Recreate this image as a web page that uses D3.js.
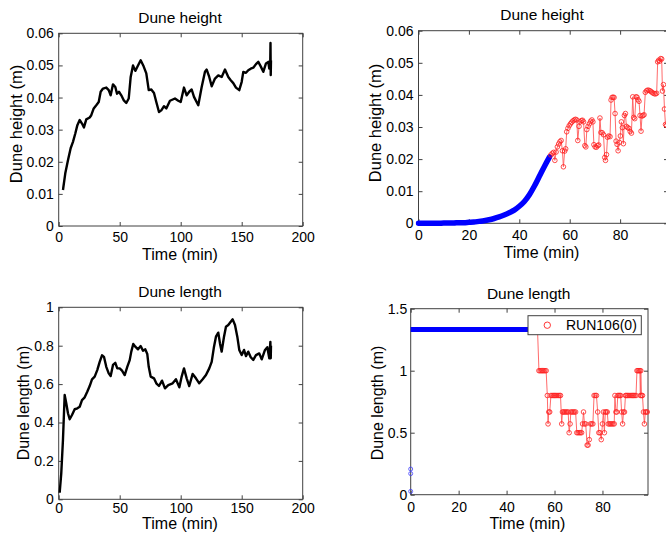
<!DOCTYPE html>
<html><head><meta charset="utf-8">
<script src="https://cdn.jsdelivr.net/npm/d3@7/dist/d3.min.js"></script>
<style>body{margin:0;background:#fff}svg{display:block;font-family:"Liberation Sans",Arial,Helvetica,sans-serif}</style>
</head><body><svg id="c" width="666" height="537"></svg>
<script>
// ---------- DATA ----------
// Top-left: Dune height vs time
const tlTime = [3.5,5.4,7.6,9.8,11.7,13.6,15.3,17.2,19.1,20.7,22.6,25.4,26.7,28.7,30.8,32.8,34.4,36.3,39,41,42.6,44.5,46.4,47.8,49.4,51.3,53.2,55.4,57.4,59,60.9,62.8,64.4,67.2,69.3,71.8,73.8,75.9,78.1,80,82.2,84.1,86.3,88.2,91.2,95.3,98,100,102.7,104.9,107,109,110.9,114.4,117.2,119.9,121.3,123.4,125.4,128.1,130.8,133.6,136.3,139,141,143.1,145.3,148,150,151.3,153.5,155.4,157.4,159.5,161.7,163.6,165.6,167.7,169.9,171.8,172.6,173.4,173.6,173.8,174];
const tlHeight = [0.0112,0.0164,0.0205,0.0242,0.0262,0.0288,0.0314,0.033,0.0319,0.0307,0.0332,0.0338,0.0345,0.0366,0.0376,0.0386,0.0418,0.0428,0.0431,0.0423,0.0407,0.0441,0.0433,0.0412,0.0418,0.0407,0.0392,0.0383,0.0397,0.0464,0.05,0.0483,0.0495,0.0516,0.05,0.0475,0.0423,0.0425,0.0414,0.0386,0.0355,0.036,0.0373,0.0366,0.039,0.0397,0.039,0.0386,0.0431,0.0407,0.0418,0.0425,0.0402,0.0376,0.0433,0.048,0.0487,0.0464,0.0435,0.0459,0.0469,0.0464,0.0487,0.0464,0.0454,0.0445,0.0431,0.0423,0.0449,0.048,0.0477,0.0485,0.049,0.0493,0.0504,0.0511,0.0497,0.048,0.0506,0.0511,0.049,0.051,0.057,0.047,0.0515];

// Bottom-left: Dune length vs time
const blTime = [0.8,2.1,3.5,4.9,6.2,7.6,9,10.9,13.1,15.3,17.2,19.1,21.3,23.4,25.4,27.3,29.5,31.6,33.6,35.5,37.1,39,41,42.6,44.5,46.4,48,50,51.9,54.1,56.2,58.2,59.5,61.1,62.8,65,67.2,69.1,71,72.6,73.8,75.4,78.1,80,82.2,84.7,87.1,89.8,93.4,96.1,98.9,100.8,102.7,104.9,107,109.8,112.5,115.2,118,120.7,123.4,125.4,127.3,128.9,130.8,132.2,133.6,135.5,137.1,139,141,142.6,144.5,146.4,148,150,151.9,153.5,155.4,157.4,159.5,161.7,164.4,166.4,169.1,171,172.6,173.5,173.8,174];
const blLength = [0.034,0.135,0.31,0.543,0.5,0.448,0.417,0.439,0.469,0.474,0.482,0.517,0.531,0.56,0.59,0.625,0.639,0.673,0.716,0.75,0.742,0.69,0.656,0.642,0.7,0.711,0.682,0.682,0.67,0.647,0.69,0.725,0.769,0.809,0.795,0.781,0.798,0.774,0.781,0.757,0.69,0.639,0.63,0.604,0.59,0.618,0.578,0.595,0.604,0.625,0.583,0.639,0.682,0.63,0.59,0.653,0.63,0.604,0.625,0.647,0.682,0.716,0.795,0.847,0.868,0.812,0.769,0.847,0.899,0.908,0.925,0.937,0.908,0.847,0.778,0.751,0.778,0.746,0.769,0.74,0.726,0.751,0.76,0.729,0.778,0.792,0.734,0.82,0.735,0.8];

// Top-right: model (blue) and RUN106(0) measurements (red)
const trBlueTime = [0,2,4,6,8,10,12,14,16,18,20,22,24,26,28,30,32,34,36,38,40,42,44,46,48,50,52];
const trBlueHeight = [0,0,0,0,0,0.0001,0.0001,0.0001,0.0002,0.0002,0.0003,0.0004,0.0006,0.0008,0.0011,0.0015,0.002,0.0026,0.0033,0.0041,0.0053,0.0068,0.0089,0.0116,0.0147,0.0178,0.0207];
const trRedTime = [52.5,53.1,53.6,54.1,54.6,55.1,55.6,56.1,56.6,57.1,57.5,58,58.4,58.8,59.3,59.8,60.3,60.8,61.3,61.8,62.3,62.8,63.2,63.7,64.1,64.6,65.1,65.5,66,66.4,66.8,67.3,67.8,68.3,68.8,69.2,69.6,70.1,70.6,71.1,71.5,72,72.4,72.9,73.4,73.9,74.2,74.6,75,75.5,76,76.4,76.8,77.2,77.6,78,78.4,78.8,79.2,79.7,80.1,80.5,80.9,81.3,81.7,82.1,82.5,83,83.5,84,84.5,85,85.4,85.8,86.3,86.7,87.1,87.5,87.9,88.3,88.7,89.1,89.5,90,90.5,91,91.5,92,92.5,93,93.5,94,94.5,94.9,95.3,95.7,96.1,96.5,96.8,97.2,97.6,98,98.4];
const trRedHeight = [0.0213,0.0218,0.0221,0.0196,0.0222,0.0238,0.0247,0.0254,0.0258,0.0226,0.0176,0.0225,0.0232,0.0285,0.0296,0.0304,0.031,0.0315,0.0319,0.0322,0.0324,0.0322,0.0258,0.0302,0.0316,0.032,0.0321,0.0316,0.0242,0.0238,0.0292,0.0302,0.031,0.0318,0.0322,0.0316,0.0245,0.0238,0.0237,0.0242,0.0244,0.0328,0.0283,0.0282,0.0276,0.0205,0.0196,0.0214,0.0268,0.0272,0.027,0.0384,0.0392,0.0393,0.0392,0.0342,0.0256,0.0246,0.0226,0.0252,0.0272,0.0316,0.0298,0.0248,0.0336,0.0342,0.0302,0.0298,0.0296,0.0286,0.0281,0.0394,0.033,0.0326,0.0394,0.0393,0.0385,0.038,0.0336,0.0287,0.0334,0.0336,0.0338,0.0408,0.0413,0.0415,0.0414,0.0412,0.0409,0.0406,0.0404,0.0403,0.0405,0.0503,0.0508,0.0505,0.0513,0.0512,0.0412,0.0432,0.0356,0.0308,0.0305];

// Bottom-right: model (blue) and RUN106(0) measurements (red)
const brBlueTime = [0,52];
const brBlueLength = [1.333,1.333];
const brBlueStartTime = [0,0,0];
const brBlueStartLength = [0.207,0.17,0.027];
const brRedTime = [52.9,53.5,54,54.5,55,55.5,56,56.5,57,57.3,57.6,58,58.5,59,59.5,60,60.5,61,61.5,62,62.5,63,63.3,63.7,64.2,64.7,65.2,65.7,66.1,66.5,66.8,67.3,67.8,68.3,68.8,69.3,69.8,70.3,70.8,71.3,71.7,72.1,72.5,73,73.6,74,74.5,75,75.5,76,76.5,77,77.5,78,78.5,79,79.5,80,80.4,80.8,81.2,81.6,82,82.4,82.9,83.4,83.9,84.4,84.9,85.2,85.6,86,86.4,86.8,87.2,87.6,88,88.4,88.8,89.2,89.6,90,90.5,91,91.5,92,92.5,93,93.5,94,94.4,94.8,95.2,95.6,95.8,96,96.3,96.7,97.1,97.5,97.9,98.3,98.7];
const brRedLength = [1.333,1,1,1,1,1,1,1,0.8,0.571,0.667,0.667,0.8,0.8,0.8,0.8,0.8,0.8,0.8,0.8,0.8,0.571,0.667,0.667,0.667,0.667,0.667,0.667,0.5,0.571,0.667,0.667,0.667,0.667,0.667,0.5,0.5,0.5,0.5,0.5,0.571,0.667,0.571,0.571,0.4,0.4,0.444,0.571,0.571,0.571,0.8,0.8,0.8,0.667,0.5,0.5,0.444,0.571,0.667,0.5,0.667,0.667,0.667,0.571,0.571,0.571,0.571,0.571,0.571,0.8,0.667,0.667,0.8,0.8,0.8,0.8,0.667,0.571,0.667,0.667,0.8,0.8,0.8,0.8,0.8,0.8,0.8,0.8,0.8,0.8,1,1,1,1,0.8,1,0.8,0.8,0.667,0.571,0.667,0.667,0.667];

// Tick values / labels
const xTicksLeft = [0,50,100,150,200];
const xTickLabelsLeft = ["0","50","100","150","200"];
const xTicksRight = [0,20,40,60,80];
const xTickLabelsRight = ["0","20","40","60","80"];
const yTicksHeight = [0,0.01,0.02,0.03,0.04,0.05,0.06];
const yTickLabelsHeight = ["0","0.01","0.02","0.03","0.04","0.05","0.06"];
const yTicksLengthL = [0,0.2,0.4,0.6,0.8,1];
const yTickLabelsLengthL = ["0","0.2","0.4","0.6","0.8","1"];
const yTicksLengthR = [0,0.5,1,1.5];
const yTickLabelsLengthR = ["0","0.5","1","1.5"];
const legendLabel = "RUN106(0)";

// ---------- DRAW ----------
const svg = d3.select("#c");
svg.append("rect").attr("width",666).attr("height",537).attr("fill","#fff");
const defs = svg.append("defs");
const AX = "#404040";
const FONT = '"Liberation Sans",Arial,sans-serif';

function panel(o){
  const x = d3.scaleLinear().domain(o.xd).range([o.l,o.r]);
  const y = d3.scaleLinear().domain(o.yd).range([o.b,o.t]);
  const g = svg.append("g");
  defs.append("clipPath").attr("id",o.id).append("rect")
    .attr("x",o.l-3).attr("y",o.t-3).attr("width",o.r-o.l+6).attr("height",o.b-o.t+6);
  g.append("rect").attr("x",o.l).attr("y",o.t).attr("width",o.r-o.l).attr("height",o.b-o.t)
    .attr("fill","#fff").attr("stroke",AX).attr("stroke-width",1);
  const style = s => { s.select(".domain").remove(); s.selectAll(".tick line").attr("stroke",AX);
    s.selectAll("text").attr("fill","#000").style("font-size","14px").style("font-family",FONT); };
  g.append("g").attr("transform",`translate(0,${o.b})`)
    .call(d3.axisBottom(x).tickValues(o.xt).tickFormat((d,i)=>o.xtl[i]).tickSizeInner(-4).tickSizeOuter(0).tickPadding(o.xpad)).call(style);
  g.append("g").attr("transform",`translate(0,${o.t})`)
    .call(d3.axisTop(x).tickValues(o.xt).tickFormat("").tickSizeInner(-4).tickSizeOuter(0)).call(style);
  g.append("g").attr("transform",`translate(${o.l},0)`)
    .call(d3.axisLeft(y).tickValues(o.yt).tickFormat((d,i)=>o.ytl[i]).tickSizeInner(-4).tickSizeOuter(0).tickPadding(o.ypad)).call(style);
  g.append("g").attr("transform",`translate(${o.r},0)`)
    .call(d3.axisRight(y).tickValues(o.yt).tickFormat("").tickSizeInner(-4).tickSizeOuter(0)).call(style);
  svg.append("text").attr("x",o.titleX).attr("y",o.titleY).attr("text-anchor","middle")
    .style("font-size","15.5px").style("font-family",FONT).text(o.title);
  svg.append("text").attr("x",o.xlabX).attr("y",o.xlabY).attr("text-anchor","middle")
    .style("font-size","16px").style("font-family",FONT).text("Time (min)");
  svg.append("text").attr("transform",`translate(${o.ylabX},${o.ylabY}) rotate(-90)`).attr("text-anchor","middle")
    .style("font-size",o.ylabSize+"px").style("font-family",FONT).text(o.ylab);
  const plot = svg.append("g").attr("clip-path",`url(#${o.id})`);
  return {x,y,plot};
}

function blackLine(p, ts, vs){
  p.plot.append("path").datum(ts.map((t,i)=>[t,vs[i]]))
    .attr("d", d3.line().x(d=>p.x(d[0])).y(d=>p.y(d[1])))
    .attr("fill","none").attr("stroke","#000").attr("stroke-width",2.4).attr("stroke-linejoin","round");
}
function blueThick(p, ts, vs){
  p.plot.append("path").datum(ts.map((t,i)=>[t,vs[i]]))
    .attr("d", d3.line().curve(d3.curveMonotoneX).x(d=>p.x(d[0])).y(d=>p.y(d[1])))
    .attr("fill","none").attr("stroke","#0000ff").attr("stroke-width",5.5).attr("stroke-linecap","round");
}
function redSeries(p, ts, vs){
  const pts = ts.map((t,i)=>[t,vs[i]]);
  p.plot.append("path").datum(pts)
    .attr("d", d3.line().x(d=>p.x(d[0])).y(d=>p.y(d[1])))
    .attr("fill","none").attr("stroke","#ff5a5a").attr("stroke-width",0.9);
  p.plot.selectAll(null).data(pts).enter().append("circle")
    .attr("cx",d=>p.x(d[0])).attr("cy",d=>p.y(d[1])).attr("r",2.3)
    .attr("fill","none").attr("stroke","#ff2020").attr("stroke-width",0.8);
}

// Top-left
const pTL = panel({id:"ctl", l:58.7, r:302.7, t:33.3, b:226, xd:[0,200], yd:[0,0.06],
  xt:xTicksLeft, xtl:xTickLabelsLeft, yt:yTicksHeight, ytl:yTickLabelsHeight, ypad:5, xpad:6.5,
  title:"Dune height", titleX:180, titleY:22.5, xlabX:180, xlabY:259.5, ylab:"Dune height (m)", ylabX:21.5, ylabY:124, ylabSize:16.5});
blackLine(pTL, tlTime, tlHeight);

// Top-right
const pTR = panel({id:"ctr", l:418.5, r:668, t:30.7, b:223.3, xd:[0,99], yd:[0,0.06],
  xt:xTicksRight, xtl:xTickLabelsRight, yt:yTicksHeight, ytl:yTickLabelsHeight, ypad:5, xpad:6.5,
  title:"Dune height", titleX:542, titleY:20.3, xlabX:541.5, xlabY:258, ylab:"Dune height (m)", ylabX:381, ylabY:123, ylabSize:16.5});
blueThick(pTR, trBlueTime, trBlueHeight);
redSeries(pTR, trRedTime, trRedHeight);

// Bottom-left
const pBL = panel({id:"cbl", l:58.7, r:302.7, t:307.3, b:499.3, xd:[0,200], yd:[0,1],
  xt:xTicksLeft, xtl:xTickLabelsLeft, yt:yTicksLengthL, ytl:yTickLabelsLengthL, ypad:5, xpad:3.5,
  title:"Dune length", titleX:180, titleY:296.5, xlabX:180, xlabY:528.5, ylab:"Dune length (m)", ylabX:28.5, ylabY:403, ylabSize:16});
blackLine(pBL, blTime, blLength);

// Bottom-right
const pBR = panel({id:"cbr", l:410.7, r:648, t:308.7, b:494.7, xd:[0,99], yd:[0,1.5],
  xt:xTicksRight, xtl:xTickLabelsRight, yt:yTicksLengthR, ytl:yTickLabelsLengthR, ypad:3.5, xpad:7.5,
  title:"Dune length", titleX:528.7, titleY:298.7, xlabX:527.5, xlabY:528.5, ylab:"Dune length (m)", ylabX:382.5, ylabY:403, ylabSize:16});
pBR.plot.append("path").datum(brBlueTime.map((t,i)=>[t,brBlueLength[i]]))
  .attr("d", d3.line().x(d=>pBR.x(d[0])).y(d=>pBR.y(d[1])))
  .attr("fill","none").attr("stroke","#0000ff").attr("stroke-width",5);
pBR.plot.selectAll(null).data(brBlueStartTime.map((t,i)=>[t,brBlueStartLength[i]])).enter().append("circle")
  .attr("cx",d=>pBR.x(d[0])).attr("cy",d=>pBR.y(d[1])).attr("r",2)
  .attr("fill","none").attr("stroke","#4040ff").attr("stroke-width",0.8);
redSeries(pBR, brRedTime, brRedLength);

// Legend
const lg = svg.append("g");
lg.append("rect").attr("x",528).attr("y",315.7).attr("width",113.3).attr("height",19)
  .attr("fill","#fff").attr("stroke",AX).attr("stroke-width",1);
lg.append("circle").attr("cx",547.3).attr("cy",325.2).attr("r",3.2)
  .attr("fill","none").attr("stroke","#ff2020").attr("stroke-width",0.9);
lg.append("text").attr("x",566).attr("y",330.2).style("font-size","14px")
  .style("font-family",FONT).text(legendLabel);
</script></body></html>
